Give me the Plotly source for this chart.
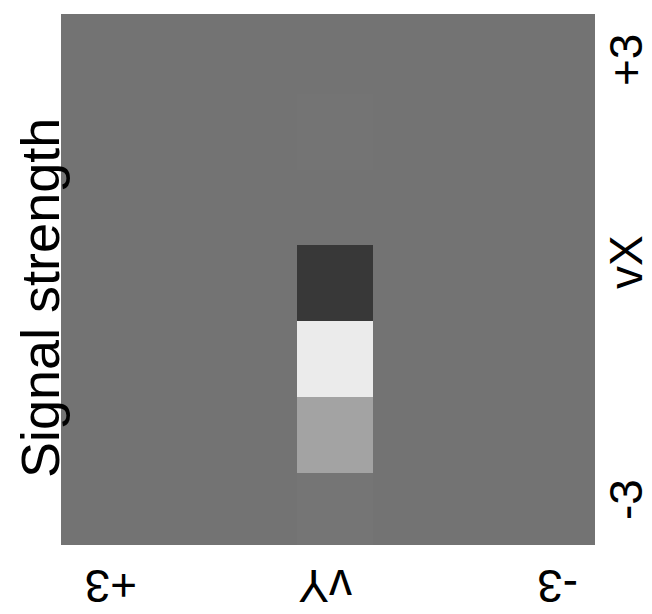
import plotly.graph_objects as go

# Axis values (picture orientation: vY runs +3 -> -3 left to right, vX runs +3 -> -3 top to bottom)
vY_values = [3, 2, 1, 0, -1, -2, -3]
vX_values = [3, 2, 1, 0, -1, -2, -3]

# Signal strength (0 = black, 1 = white), rows listed top (vX=+3) to bottom (vX=-3)
signal = [
    [0.45, 0.45, 0.45, 0.45, 0.45, 0.45, 0.45],
    [0.45, 0.45, 0.45, 0.455, 0.45, 0.45, 0.45],
    [0.45, 0.45, 0.45, 0.45, 0.45, 0.45, 0.45],
    [0.45, 0.45, 0.45, 0.22, 0.45, 0.45, 0.45],
    [0.45, 0.45, 0.45, 0.92, 0.45, 0.45, 0.45],
    [0.45, 0.45, 0.45, 0.64, 0.45, 0.45, 0.45],
    [0.45, 0.45, 0.45, 0.46, 0.45, 0.45, 0.45],
]

title_text = "Signal strength"
right_labels = ["+3", "vX", "-3"]
bottom_labels = ["+3", "vY", "-3"]

# page offset of the figure inside the browser (default body margin)
OFF = 8
W, H = 644, 606
# target plot area in page pixels: x 61..595, y 14..545
L, T = 61 - OFF, 14 - OFF
R, B = W - (595 - OFF), H - (545 - OFF)
pw, ph = W - L - R, H - T - B

def px_x(px):
    return (px - OFF - L) / pw

def px_y(py):
    return (H - B - (py - OFF)) / ph

bg_gray = "rgb(115,115,115)"

fig = go.Figure(
    go.Heatmap(
        x=vY_values,
        y=vX_values,
        z=signal,
        zmin=0,
        zmax=1,
        colorscale=[[0, "rgb(0,0,0)"], [1, "rgb(255,255,255)"]],
        showscale=False,
        hoverinfo="skip",
    )
)

font_family = "Liberation Sans, Arial, sans-serif"
annotations = []
annotations.append(dict(
    text=title_text, xref="paper", yref="paper", x=px_x(40), y=px_y(298),
    textangle=-90, showarrow=False, xanchor="center", yanchor="middle",
    font=dict(family=font_family, size=54, color="black"),
))
for lab, py in zip(right_labels, [60, 262, 500]):
    annotations.append(dict(
        text=lab, xref="paper", yref="paper", x=px_x(626), y=px_y(py),
        textangle=-90, showarrow=False, xanchor="center", yanchor="middle",
        font=dict(family=font_family, size=46, color="black"),
    ))
for lab, pxx in zip(bottom_labels, [111, 325, 558]):
    annotations.append(dict(
        text=lab, xref="paper", yref="paper", x=px_x(pxx), y=px_y(586),
        textangle=180, showarrow=False, xanchor="center", yanchor="middle",
        font=dict(family=font_family, size=46, color="black"),
    ))

fig.update_layout(
    width=W, height=H,
    margin=dict(l=L, r=R, t=T, b=B, pad=0),
    paper_bgcolor="white",
    plot_bgcolor=bg_gray,
    xaxis=dict(range=[3.59, -3.41], visible=False, showgrid=False, zeroline=False),
    yaxis=dict(range=[-3.45, 3.55], visible=False, showgrid=False, zeroline=False),
    annotations=annotations,
    showlegend=False,
)

fig.write_html("out.html")
